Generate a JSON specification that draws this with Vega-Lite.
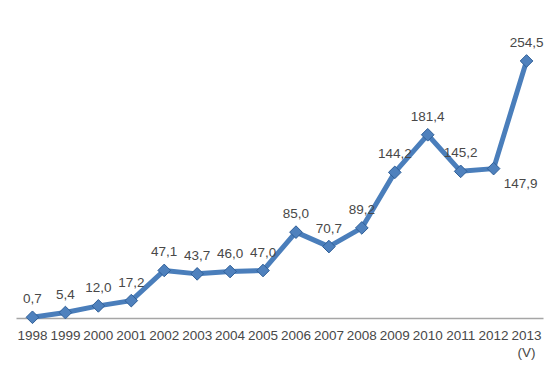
{
  "$schema": "https://vega.github.io/schema/vega-lite/v6.json",
  "autosize": "none",
  "padding": {"left": 16, "top": 15, "right": 15, "bottom": 48},
  "width": 527,
  "height": 303,
  "background": "white",
  "config": {"view": {"stroke": null}, "font": "Liberation Sans"},
  "data": {"values": [
    {"year": "1998", "value": 0.7, "label": "0,7"},
    {"year": "1999", "value": 5.4, "label": "5,4"},
    {"year": "2000", "value": 12.0, "label": "12,0"},
    {"year": "2001", "value": 17.2, "label": "17,2"},
    {"year": "2002", "value": 47.1, "label": "47,1"},
    {"year": "2003", "value": 43.7, "label": "43,7"},
    {"year": "2004", "value": 46.0, "label": "46,0"},
    {"year": "2005", "value": 47.0, "label": "47,0"},
    {"year": "2006", "value": 85.0, "label": "85,0"},
    {"year": "2007", "value": 70.7, "label": "70,7"},
    {"year": "2008", "value": 89.2, "label": "89,2"},
    {"year": "2009", "value": 144.2, "label": "144,2"},
    {"year": "2010", "value": 181.4, "label": "181,4"},
    {"year": "2011", "value": 145.2, "label": "145,2"},
    {"year": "2012", "value": 147.9, "label": "147,9"},
    {"year": "2013", "value": 254.5, "label": "254,5"}
  ]},
  "encoding": {
    "x": {"field": "year", "type": "ordinal", "title": null,
      "scale": {"type": "band", "paddingInner": 0, "paddingOuter": 0},
      "axis": {"labelAngle": 0, "ticks": false, "domainColor": "#a6a6a6", "domainWidth": 1.5,
        "labelFontSize": 13.5, "labelColor": "#484848", "labelPadding": 10, "labelFont": "Liberation Sans",
        "labelExpr": "datum.value == '2013' ? ['2013', '(V)'] : datum.value", "labelLineHeight": 17}},
    "y": {"field": "value", "type": "quantitative", "scale": {"domain": [0, 300], "nice": false}, "axis": null}
  },
  "layer": [
    {"mark": {"type": "line", "color": "#4A7EBB", "strokeWidth": 5, "strokeJoin": "round"}},
    {"mark": {"type": "point", "shape": "diamond", "filled": true, "size": 160, "color": "#4F81BD", "stroke": "#2f5f98", "strokeWidth": 1, "opacity": 1}},
    {"transform": [{"filter": "datum.year != '2012'"}],
      "mark": {"type": "text", "dy": -18, "baseline": "middle", "fontSize": 13.5, "color": "#484848", "font": "Liberation Sans"},
      "encoding": {"text": {"field": "label"}}},
    {"transform": [{"filter": "datum.year == '2012'"}],
      "mark": {"type": "text", "dx": 27, "dy": 15, "baseline": "middle", "fontSize": 13.5, "color": "#484848", "font": "Liberation Sans"},
      "encoding": {"text": {"field": "label"}}}
  ]
}
